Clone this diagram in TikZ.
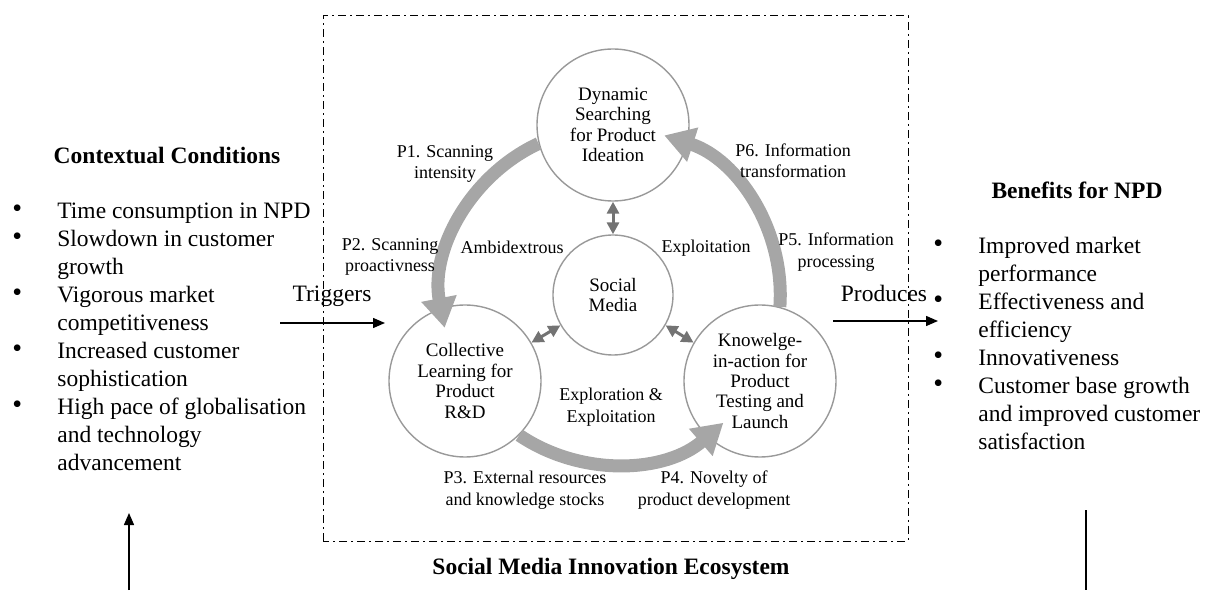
\documentclass[tikz,border=0pt]{standalone}
\usepackage{fontspec}
\setmainfont{Liberation Serif}
\usetikzlibrary{arrows.meta}
\newcommand\bul{\smash{\raisebox{0.1ex}{\fontsize{14}{14}\selectfont\textbullet}}}
\begin{document}
\begin{tikzpicture}[x=0.5pt, y=0.5pt,
    stage/.style={circle, draw=black!40, line width=0.7pt, minimum size=76pt, inner sep=0pt, align=center, font=\fontsize{9.5}{10.2}\selectfont},
    hubnode/.style={stage, minimum size=60pt},
    flow/.style={draw=black!35, line width=6.5pt, -{Triangle[length=15pt,width=17pt]}},
    link/.style={draw=black!55, line width=1.5pt, {Triangle[length=6pt,width=6pt]}-{Triangle[length=6pt,width=6pt]}},
    lbl/.style={align=center, inner sep=0pt, font=\fontsize{9}{10.75}\selectfont},
    head/.style={inner sep=0pt, font=\fontsize{11.75}{14}\selectfont\bfseries},
    plain/.style={inner sep=0pt, font=\fontsize{11.75}{14}\selectfont},
    pointer/.style={line width=0.7pt, -{Triangle[length=6pt,width=5pt]}}]
  \useasboundingbox (0,0) rectangle (1217,590);
  % ecosystem frame
  \draw[line width=0.5pt, dash pattern=on 4pt off 2pt on 1pt off 2pt] (323,49) rectangle (908,574);
  \node[head] (eco) at (611,21) {Social Media Innovation Ecosystem};
  % stages
  \node[hubnode] (hub) at (613,295) {Social\\Media};
  \node[stage] (dyn) at (613,465) {Dynamic\\Searching\\for Product\\Ideation};
  \node[stage] (col) at (465,209) {Collective\\Learning for\\Product\\R\&D};
  \node[stage] (know) at (760,209) {Knowelge-\\in-action for\\Product\\Testing and\\Launch};
  % cycle
  \draw[flow] (dyn.194) arc[start angle=115, end angle=191, radius=168];
  \draw[flow] (col.315) arc[start angle=236, end angle=311, radius=168];
  \draw[flow] (know.75) arc[start angle=-4, end angle=72, radius=168];
  \draw[link] (dyn.south) -- (hub.north);
  \draw[link] (hub.210) -- (col.30);
  \draw[link] (hub.330) -- (know.150);
  % labels
  \node[lbl] (p1) at (445,426) {P1. Scanning\\intensity};
  \node[lbl] (p2) at (390,333) {P2. Scanning\\proactivness};
  \node[lbl] (amb) at (512,343) {Ambidextrous};
  \node[lbl] (expl) at (706,342) {Exploitation};
  \node[lbl] (p6) at (793,429) {P6. Information\\transformation};
  \node[lbl] (p5) at (836,338) {P5. Information\\processing};
  \node[lbl] (mix) at (611,183) {Exploration \&\\Exploitation};
  \node[lbl] (p3) at (525,100) {P3. External resources\\and knowledge stocks};
  \node[lbl] (p4) at (714,100) {P4. Novelty of\\product development};
  % context
  \node[head] (ctx) at (167,435) {Contextual Conditions};
  \node[plain, anchor=north west] (ctxlist) at (12,391) {\begin{tabular}{@{}p{22.5pt}@{}l@{}}
    \bul & Time consumption in NPD\\
    \bul & Slowdown in customer\\
     & growth\\
    \bul & Vigorous market\\
     & competitiveness\\
    \bul & Increased customer\\
     & sophistication\\
    \bul & High pace of globalisation\\
     & and technology\\
     & advancement
  \end{tabular}};
  % benefits
  \node[head] (ben) at (1077,400) {Benefits for NPD};
  \node[plain, anchor=north west] (benlist) at (933,356) {\begin{tabular}{@{}p{22.5pt}@{}l@{}}
    \bul & Improved market\\
     & performance\\
    \bul & Effectiveness and\\
     & efficiency\\
    \bul & Innovativeness\\
    \bul & Customer base growth\\
     & and improved customer\\
     & satisfaction
  \end{tabular}};
  % triggers and produces
  \coordinate (trigA) at (280,267);
  \coordinate (trigB) at (385,267);
  \draw[pointer] (trigA) -- (trigB);
  \node[plain] (trig) at (332,294) {Triggers};
  \coordinate (prodA) at (833,269);
  \coordinate (prodB) at (938,269);
  \draw[pointer] (prodA) -- (prodB);
  \node[plain] (prod) at (884,297) {Produces};
  % feedback stubs
  \coordinate (upA) at (129,0);
  \coordinate (upB) at (129,77);
  \draw[pointer] (upA) -- (upB);
  \coordinate (dnA) at (1086,80);
  \coordinate (dnB) at (1086,0);
  \draw[line width=0.7pt] (dnA) -- (dnB);
\end{tikzpicture}
\end{document}
